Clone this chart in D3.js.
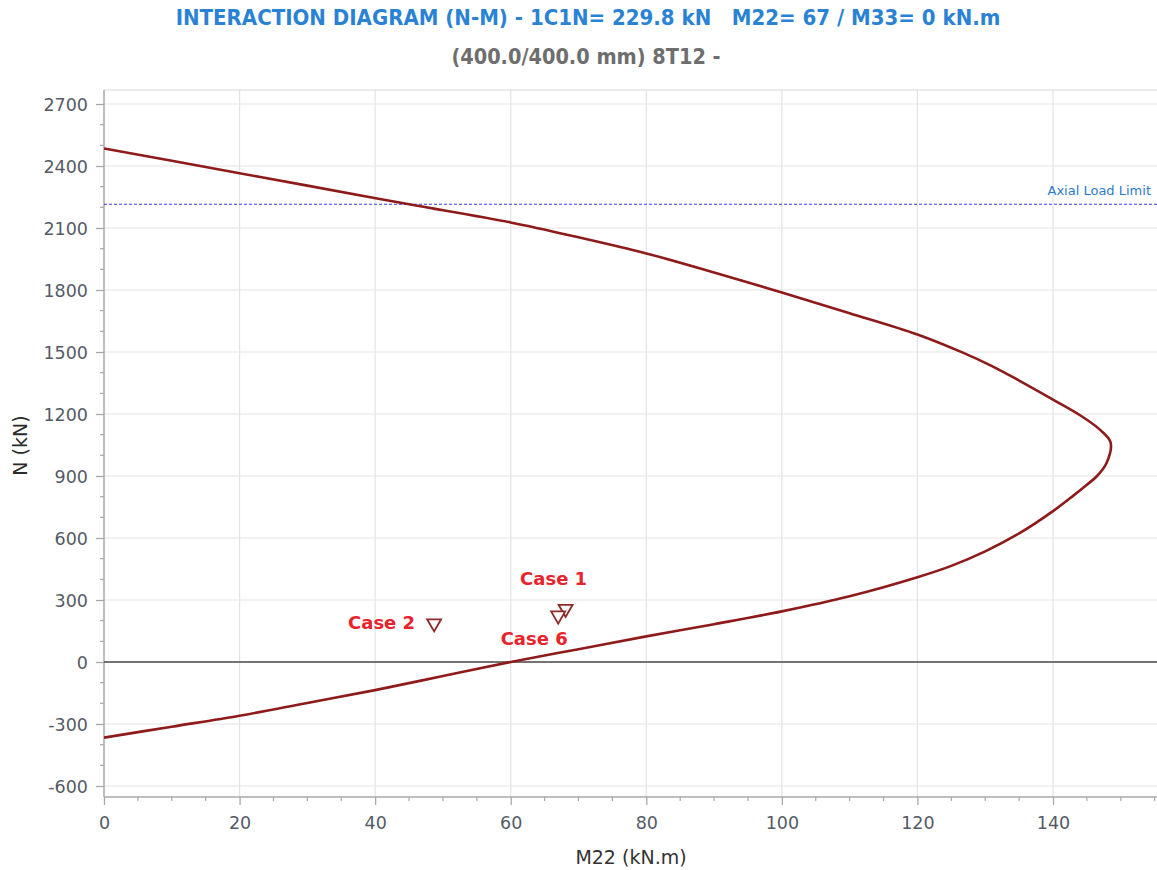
<!DOCTYPE html>
<html>
<head>
<meta charset="utf-8">
<script src="https://cdn.jsdelivr.net/npm/d3@7"></script>
<style>
  html, body { margin: 0; padding: 0; background: #fff; }
  svg { display: block; }
</style>
</head>
<body>
<svg id="chart" width="1157" height="870"></svg>
<script>
// Interaction curve (M22 in kN.m, N in kN): upper branch then lower branch
const curveM = [0, 10, 20, 30, 45, 60, 70, 80, 90, 100, 110, 120, 126.7, 131, 135, 140, 144, 147, 148.5,
                147.9, 146.5, 145, 143, 140, 135, 130, 125, 120, 110, 100, 90, 80, 70, 60, 50, 40, 30, 20, 10, 0];
const curveN = [2485, 2425, 2365, 2305, 2215, 2127, 2055, 1977, 1885, 1788, 1688, 1585, 1497, 1432, 1362, 1270, 1194, 1122, 1062,
                963, 900, 858, 805, 730, 622, 535, 465, 410, 318, 245, 183, 124, 62, 0, -68, -136, -198, -260, -313, -366];

// Load cases
const caseNames = ["Case 1", "Case 2", "Case 6"];
const caseM = [68.1, 48.7, 67.0];
const caseN = [262, 192, 229.8];

const axialLimit = 2215;

const xTicks = [0, 20, 40, 60, 80, 100, 120, 140];
const yTicks = [-600, -300, 0, 300, 600, 900, 1200, 1500, 1800, 2100, 2400, 2700];

const titleText = "INTERACTION DIAGRAM (N-M) - 1C1N= 229.8 kN   M22= 67 / M33= 0 kN.m";
const subtitleText = "(400.0/400.0 mm) 8T12 -";

const svg = d3.select("#chart");
const plot = { left: 104, right: 1157, top: 90, bottom: 797 };

const x = d3.scaleLinear().domain([0, 140]).range([104, 1053]);
const y = d3.scaleLinear().domain([-600, 2700]).range([786, 104]);

const labelFont = "'DejaVu Sans', Verdana, sans-serif";
const titleFont = "'DejaVu Sans Condensed', 'DejaVu Sans', sans-serif";

// Titles
svg.append("text")
  .attr("x", 588).attr("y", 25)
  .attr("text-anchor", "middle")
  .attr("xml:space", "preserve")
  .style("font-family", titleFont)
  .style("font-stretch", "condensed")
  .style("font-weight", "bold")
  .style("font-size", "22px")
  .style("fill", "#2a82d4")
  .style("white-space", "pre")
  .text(titleText);

svg.append("text")
  .attr("x", 586).attr("y", 64)
  .attr("text-anchor", "middle")
  .style("font-family", titleFont)
  .style("font-stretch", "condensed")
  .style("font-weight", "bold")
  .style("font-size", "21.5px")
  .style("fill", "#6e6e6e")
  .text(subtitleText);

// Clip for plot area
svg.append("defs").append("clipPath").attr("id", "plotClip")
  .append("rect")
  .attr("x", plot.left).attr("y", plot.top)
  .attr("width", plot.right - plot.left).attr("height", plot.bottom - plot.top);

// Grid
const grid = svg.append("g");
grid.selectAll("line.h").data(yTicks).enter().append("line")
  .attr("x1", plot.left).attr("x2", plot.right)
  .attr("y1", d => y(d)).attr("y2", d => y(d))
  .attr("stroke", "#e3e3e3").attr("stroke-width", 1.2);
grid.selectAll("line.v").data(xTicks.filter(d => d > 0)).enter().append("line")
  .attr("y1", plot.top).attr("y2", plot.bottom)
  .attr("x1", d => x(d)).attr("x2", d => x(d))
  .attr("stroke", "#e3e3e3").attr("stroke-width", 1.2);

// Top border
svg.append("line")
  .attr("x1", plot.left).attr("x2", plot.right)
  .attr("y1", plot.top).attr("y2", plot.top)
  .attr("stroke", "#d8d8d8").attr("stroke-width", 1);

// Axes
const fmt = d => String(d);
const yAxis = d3.axisLeft(y).tickValues(yTicks).tickFormat(fmt).tickSize(8).tickSizeOuter(0).tickPadding(8);
const xAxis = d3.axisBottom(x).tickValues(xTicks).tickFormat(fmt).tickSize(8).tickSizeOuter(0).tickPadding(12);

const gy = svg.append("g").attr("transform", `translate(${plot.left},0)`).call(yAxis);
const gx = svg.append("g").attr("transform", `translate(0,${plot.bottom})`).call(xAxis);

[gx, gy].forEach(g => {
  g.select(".domain").remove();
  g.selectAll(".tick line").attr("stroke", "#a8a8a8").attr("stroke-width", 1.3);
  g.selectAll(".tick text")
    .style("font-family", labelFont)
    .style("font-size", "17.5px")
    .style("fill", "#555a66");
});
gy.selectAll(".tick text").attr("dy", "0.36em");

// Minor ticks
const yMinor = d3.range(-600, 2701, 100).filter(v => v % 300 !== 0);
svg.append("g").selectAll("line").data(yMinor).enter().append("line")
  .attr("x1", plot.left - 4).attr("x2", plot.left)
  .attr("y1", d => y(d)).attr("y2", d => y(d))
  .attr("stroke", "#a8a8a8").attr("stroke-width", 1.2);
const xMinor = d3.range(0, 156, 5).filter(v => v % 20 !== 0);
svg.append("g").selectAll("line").data(xMinor).enter().append("line")
  .attr("y1", plot.bottom).attr("y2", plot.bottom + 4)
  .attr("x1", d => x(d)).attr("x2", d => x(d))
  .attr("stroke", "#a8a8a8").attr("stroke-width", 1.2);

// Axis lines
svg.append("line")
  .attr("x1", plot.left).attr("x2", plot.left)
  .attr("y1", plot.top).attr("y2", plot.bottom)
  .attr("stroke", "#a8a8a8").attr("stroke-width", 1.5);
svg.append("line")
  .attr("x1", plot.left).attr("x2", plot.right)
  .attr("y1", plot.bottom).attr("y2", plot.bottom)
  .attr("stroke", "#a8a8a8").attr("stroke-width", 1.5);

// Axis titles
svg.append("text")
  .attr("transform", `translate(27,${(plot.top + plot.bottom) / 2 + 2}) rotate(-90)`)
  .attr("text-anchor", "middle")
  .style("font-family", labelFont)
  .style("font-size", "19px")
  .style("fill", "#2a2a2a")
  .text("N (kN)");

svg.append("text")
  .attr("x", 631).attr("y", 864)
  .attr("text-anchor", "middle")
  .style("font-family", labelFont)
  .style("font-size", "19px")
  .style("fill", "#333")
  .text("M22 (kN.m)");

const inner = svg.append("g").attr("clip-path", "url(#plotClip)");

// Zero axial load line
inner.append("line")
  .attr("x1", plot.left).attr("x2", plot.right)
  .attr("y1", y(0)).attr("y2", y(0))
  .attr("stroke", "#4a4a4a").attr("stroke-width", 1.5);

// Axial load limit
inner.append("line")
  .attr("x1", plot.left).attr("x2", plot.right)
  .attr("y1", y(axialLimit)).attr("y2", y(axialLimit))
  .attr("stroke", "#3b3bf0").attr("stroke-width", 1.2)
  .attr("stroke-dasharray", "3,2");
svg.append("text")
  .attr("x", 1151).attr("y", y(axialLimit) - 9)
  .attr("text-anchor", "end")
  .style("font-family", labelFont)
  .style("font-size", "13px")
  .style("fill", "#2b7ad0")
  .text("Axial Load Limit");

// Interaction curve
const curve = curveM.map((m, i) => [m, curveN[i]]);
inner.append("path")
  .datum(curve)
  .attr("d", d3.line().curve(d3.curveCatmullRom.alpha(0.5)).x(d => x(d[0])).y(d => y(d[1])))
  .attr("fill", "none")
  .attr("stroke", "#8e1a1a")
  .attr("stroke-width", 2.6)
  .attr("stroke-linejoin", "round");

// Load case markers
const cases = caseNames.map((name, i) => ({ name, m: caseM[i], n: caseN[i] }));
const tri = d3.symbol().type(d3.symbolTriangle).size(85);
inner.selectAll("path.case").data(cases).enter().append("path")
  .attr("class", "case")
  .attr("d", tri)
  .attr("transform", d => `translate(${x(d.m)},${y(d.n) + 1}) rotate(180)`)
  .attr("fill", "#fff")
  .attr("stroke", "#8e2a2a")
  .attr("stroke-width", 1.8);

// Case labels, placed around their markers
const labelPlace = {
  "Case 1": { dx: -12, dy: -23, anchor: "middle" },
  "Case 2": { dx: -19, dy: 7, anchor: "end" },
  "Case 6": { dx: -24, dy: 30, anchor: "middle" }
};
svg.selectAll("text.case").data(cases).enter().append("text")
  .attr("class", "case")
  .attr("x", d => x(d.m) + labelPlace[d.name].dx)
  .attr("y", d => y(d.n) + labelPlace[d.name].dy)
  .attr("text-anchor", d => labelPlace[d.name].anchor)
  .style("font-family", labelFont)
  .style("font-weight", "bold")
  .style("font-size", "18px")
  .style("fill", "#e8232b")
  .text(d => d.name);
</script>
</body>
</html>
